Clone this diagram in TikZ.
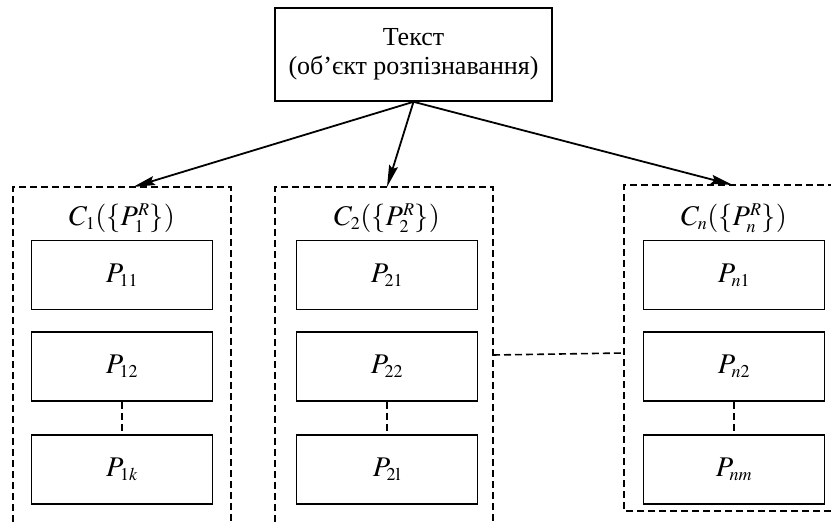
\documentclass[tikz,border=0pt]{standalone}
\usepackage{mathptmx}
\usepackage[no-math]{fontspec}
\setmainfont{Liberation Serif}
\usepackage{tikz}
\usetikzlibrary{positioning,arrows.meta}
\DeclareMathSizes{28.5}{28.5}{18}{13}

\begin{document}
\begin{tikzpicture}[x=1pt, y=-1pt, >={Stealth[length=22pt,width=9pt,inset=3pt]},
            node distance = 21pt and 0pt,
            every node/.style = {font=\fontsize{28.5}{32}\selectfont},
            mainbox/.style = {draw, line width=1.6pt, minimum width=277pt, minimum height=93pt,
                    align=center, inner sep=0pt, font=\fontsize{26}{29}\selectfont},
            pbox/.style = {draw, line width=1.6pt, minimum width=181pt, minimum height=69pt, inner sep=0pt},
            frame/.style = {line width=1.6pt, dash pattern=on 7pt off 4pt},
            link/.style = {->, line width=1.8pt},
        ]
        \useasboundingbox (0,0) rectangle (831,522);

        \node[mainbox] (text) at (413.5,54.5) {Текст\\(об’єкт розпізнавання)};

        % groups of classes
        \foreach \x/\g/\a/\b/\c in {122/1/11/12/1k, 387/2/21/22/2\mathrm{l}, 734/n/n1/n2/nm}
            {
                \node (c\g) at (\x,218) {$C_{\g}(\{P_{\g}^{R}\})$};
                \node[pbox] (p\g-1) at (\x,275) {$P_{\a}$};
                \node[pbox, below=of p\g-1] (p\g-2) {$P_{\b}$};
                \node[pbox, below=32pt of p\g-2] (p\g-3) {$P_{\c}$};
                \draw[frame] (p\g-2) -- (p\g-3);
            }

        \draw[frame] (13,522) -- (13,187) -- (231,187) -- (231,522);
        \draw[frame] (275,522) -- (275,187) -- (493,187) -- (493,522);
        \draw[frame] (831,511) -- (624,511) -- (624,185) -- (831,185);

        \coordinate (g1) at (133,187);
        \coordinate (g2) at (387,187);
        \coordinate (gn) at (733,185);
        \coordinate (d2) at (493,355);
        \coordinate (dn) at (624,353);

        \draw[link] (text.south) -- (g1);
        \draw[link] (text.south) -- (g2);
        \draw[link] (text.south) -- (gn);
        \draw[frame] (d2) -- (dn);
\end{tikzpicture}
\end{document}
